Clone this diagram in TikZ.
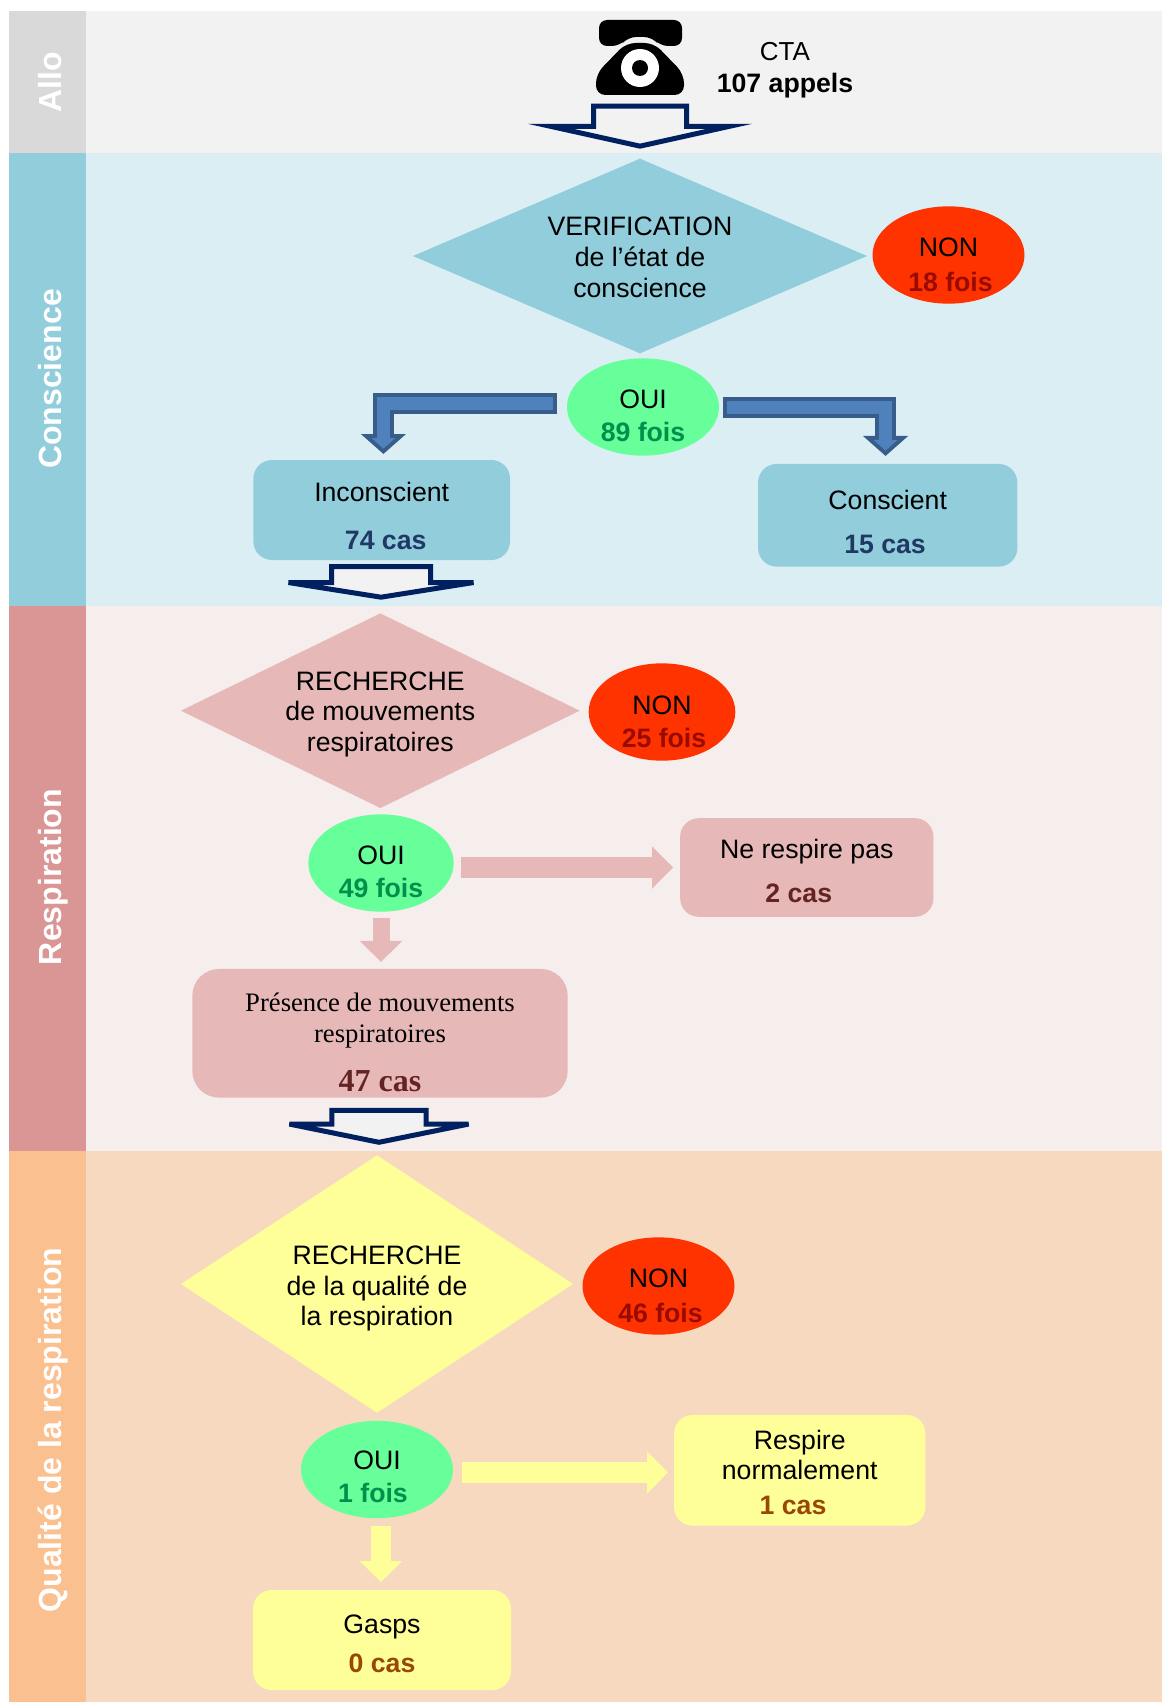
\documentclass[tikz,border=0pt]{standalone}
\usepackage{fontspec}
\setmainfont{Liberation Sans}
\newfontfamily\timesfont{Liberation Serif}
\usetikzlibrary{shapes.geometric,shapes.arrows,arrows.meta}

\definecolor{bandallo}{HTML}{F2F2F2}
\definecolor{bandcons}{HTML}{DBEEF4}
\definecolor{bandresp}{HTML}{F6EDED}
\definecolor{bandqual}{HTML}{F7D9C0}
\definecolor{stripallo}{HTML}{D9D9D9}
\definecolor{stripcons}{HTML}{92CDDC}
\definecolor{stripresp}{HTML}{D99694}
\definecolor{stripqual}{HTML}{FBC08F}
\definecolor{fillpink}{HTML}{E6B9B8}
\definecolor{fillyellow}{HTML}{FFFF99}
\definecolor{fillgreen}{HTML}{66FF99}
\definecolor{fillred}{HTML}{FF3300}
\definecolor{navyline}{HTML}{002060}
\definecolor{bluefill}{HTML}{4F81BD}
\definecolor{blueline}{HTML}{385D8A}
\definecolor{txtblue}{HTML}{1F3864}
\definecolor{txtgreen}{HTML}{00904C}
\definecolor{txtdark}{HTML}{632423}
\definecolor{txtbrown}{HTML}{974806}
\definecolor{txtred}{HTML}{990A00}

\newcommand{\pushdown}[1]{\rule{0pt}{#1pt}}

\tikzset{
  flowtext/.style={font=\fontsize{20}{23}\selectfont,align=center,inner sep=0pt,outer sep=0pt},
  choice/.style={flowtext,diamond},
  noblob/.style={flowtext,ellipse,inner ysep=-7pt,fill=fillred,minimum width=114pt,minimum height=73pt},
  ouiblob/.style={flowtext,ellipse,inner ysep=-7pt,fill=fillgreen,minimum width=114pt,minimum height=73pt},
  result/.style={flowtext,rectangle,rounded corners=14pt},
  striplabel/.style={font=\bfseries\fontsize{24}{28}\selectfont,text=white,rotate=90,inner sep=0pt},
  blockdown/.style={single arrow,shape border rotate=270,draw=navyline,fill=bandallo,line width=3.75pt,
    miter limit=4,inner ysep=0pt,outer sep=0pt},
  pinkfat/.style={draw=fillpink,line width=15.75pt,-{Triangle[length=15.75pt,width=30.75pt]}},
  yellowfat/.style={draw=fillyellow,line width=15.75pt,-{Triangle[length=15.75pt,width=30.75pt]}},
  blueouter/.style={draw=blueline,line width=15.75pt,-{Triangle[length=15pt,width=33pt]}},
  blueinner/.style={draw=bluefill,line width=9.75pt,-{Triangle[length=8pt,width=17.5pt]}},
}

\begin{document}
\begin{tikzpicture}[x=0.75pt,y=0.75pt,yscale=-1,xscale=1]
\useasboundingbox (0,0) rectangle (1162,1702);

%Shape: Bands
\fill [bandallo] (86,11) rectangle (1162,153);
\fill [bandcons] (86,153) rectangle (1162,606);
\fill [bandresp] (86,606) rectangle (1162,1151);
\fill [bandqual] (86,1151) rectangle (1162,1702);
\fill [stripallo] (9,11) rectangle (86,153);
\fill [stripcons] (9,153) rectangle (86,606);
\fill [stripresp] (9,606) rectangle (86,1151);
\fill [stripqual] (9,1151) rectangle (86,1702);

% Text Node
\node [striplabel] (lblallo) at (50,82.5) {Allo};
\node [striplabel] (lblcons) at (50,379) {Conscience};
\node [striplabel] (lblresp) at (53,877) {Respiration};
\node [striplabel] (lblqual) at (53,1430) {Qualité de la respiration};

%Shape: Phone
\fill [rounded corners=6pt] (599,20) -- (682,20) -- (682,46) -- (660,46) -- (652,37) -- (628,37) -- (620,46) -- (599,46) -- cycle;
\fill [rounded corners=7pt] (626,43) -- (654,43) -- (684,74) -- (684,95) -- (596,95) -- (596,74) -- cycle;
\fill [white] (640,68) circle (19);
\fill (640,68) circle (8);

% Text Node
\node [flowtext,font=\fontsize{19.5}{24.4}\selectfont] (cta) at (785,70) {CTA\\{\bfseries\fontsize{20}{24.4}\selectfont 107 appels}};

%Shape: Conscience
\node [blockdown,minimum height=30pt,minimum width=130pt,inner xsep=33pt,single arrow head extend=32pt,single arrow tip angle=155,miter limit=20] (arrowa) at (640,121) {};
\node [choice,aspect=2.334,fill=stripcons,minimum width=340.5pt,minimum height=146pt] (verif) at (640,256) {\pushdown{16}VERIFICATION\\de l’état de\\conscience};
\node [noblob] (nona) at (948.5,255) {\pushdown{29}NON\\[3.6pt]\hspace*{3pt}{\bfseries\color{txtred}18 fois}};
\node [ouiblob] (ouia) at (643,407) {\pushdown{27.5}OUI\\[2pt]{\bfseries\color{txtgreen}89 fois}};
\node [result,fill=stripcons,minimum width=192.5pt,minimum height=75pt] (incons) at (381.7,510) {\pushdown{23.5}Inconscient\\[12.8pt]\hspace*{6pt}{\bfseries\color{txtblue}74 cas}};
\node [result,fill=stripcons,minimum width=194.5pt,minimum height=77pt] (consc) at (887.7,515.3) {\pushdown{24.3}Conscient\\[10pt]\hspace*{-4pt}{\bfseries\color{txtblue}15 cas}};
\node [blockdown,minimum height=22.9pt,minimum width=135pt,inner xsep=35.25pt,single arrow head extend=32.25pt,single arrow tip angle=162] (arrowb) at (381,578) {};

\draw [blueouter,shorten <=7.5pt,shorten >=4.5pt] ([yshift=-2.6pt]ouia.west) -| ([xshift=1.3pt]incons.north);
\draw [blueinner,shorten <=10.5pt,shorten >=8.5pt] ([yshift=-2.6pt]ouia.west) -| ([xshift=1.3pt]incons.north);
\draw [blueouter,shorten <=3pt,shorten >=6pt] (ouia.east) -| ([xshift=-1.6pt]consc.north);
\draw [blueinner,shorten <=6pt,shorten >=10pt] (ouia.east) -| ([xshift=-1.6pt]consc.north);

%Shape: Respiration
\node [choice,aspect=2.04,fill=fillpink,minimum width=299pt,minimum height=146pt] (mouv) at (380.3,710.7) {\pushdown{19.5}RECHERCHE\\de mouvements\\respiratoires};
\node [noblob,minimum width=110pt] (nonb) at (662,712) {\pushdown{29}NON\\[2pt]\hspace*{3pt}{\bfseries\color{txtred}25 fois}};
\node [ouiblob,minimum width=109pt] (ouib) at (381,863) {\pushdown{27.5}OUI\\[2pt]{\bfseries\color{txtgreen}49 fois}};
\node [result,fill=fillpink,minimum width=190pt,minimum height=74pt] (nerespire) at (806.8,867.5) {\pushdown{20}Ne respire pas\\[9.6pt]\hspace*{-12pt}{\bfseries\color{txtdark}2 cas}};
\node [result,rounded corners=20pt,fill=fillpink,minimum width=281.5pt,minimum height=96.5pt,font=\timesfont\fontsize{20}{23}\selectfont] (presence) at (380,1033.3) {\pushdown{28}Présence de mouvements\\respiratoires\\[14pt]{\bfseries\fontsize{24}{26}\selectfont\color{txtdark}47 cas}};
\node [blockdown,minimum height=24pt,minimum width=130.5pt,inner xsep=33.4pt,single arrow head extend=31.9pt,single arrow tip angle=157] (arrowc) at (379,1121.5) {};

\draw [pinkfat,shorten <=5.25pt,shorten >=5.25pt] (ouib.east |- nerespire.west) -- (nerespire.west);
\draw [pinkfat,line width=12.75pt,shorten <=4.5pt,shorten >=5.25pt] (ouib.south) -- (ouib.south |- presence.north);

%Shape: Qualite
\node [choice,aspect=1.525,fill=fillyellow,minimum width=294pt,minimum height=193pt] (qual) at (377,1284) {\pushdown{21}RECHERCHE\\de la qualité de\\la respiration};
\node [noblob] (nonc) at (658.5,1286) {\pushdown{29}NON\\[3pt]\hspace*{3pt}{\bfseries\color{txtred}46 fois}};
\node [ouiblob] (ouic) at (377,1469.5) {\pushdown{25}OUI\\[2pt]\hspace*{-6pt}{\bfseries\color{txtgreen}1 fois}};
\node [result,fill=fillyellow,minimum width=188.5pt,minimum height=83pt] (normal) at (799.7,1470.3) {\pushdown{17.7}Respire\\normalement\\[3pt]\hspace*{-10pt}{\bfseries\color{txtbrown}1 cas}};
\node [result,fill=fillyellow,minimum width=193.5pt,minimum height=75pt] (gasps) at (382,1640) {\pushdown{19.3}Gasps\\[6.4pt]{\bfseries\color{txtbrown}0 cas}};

\draw [yellowfat,shorten <=6.5pt,shorten >=4.5pt] ([yshift=1.6pt]ouic.east |- normal.west) -- ([yshift=1.6pt]normal.west);
\draw [yellowfat,line width=15pt,shorten <=6pt,shorten >=6pt] ([xshift=3pt]ouic.south) -- ([xshift=3pt]ouic.south |- gasps.north);

\end{tikzpicture}
\end{document}
